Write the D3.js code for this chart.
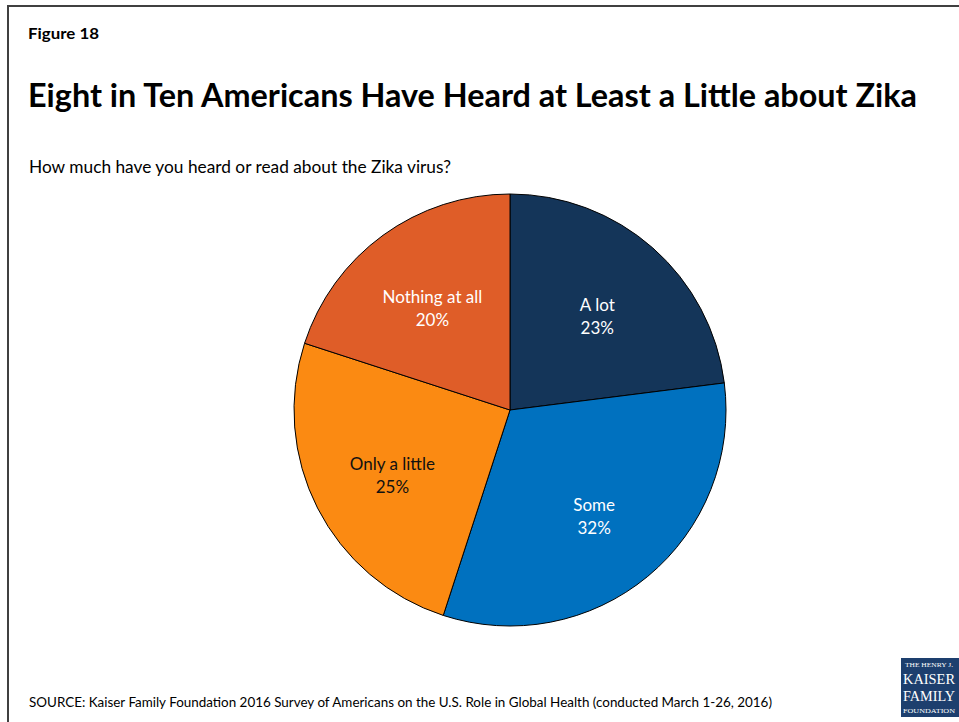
<!DOCTYPE html>
<html>
<head>
<meta charset="utf-8">
<script src="https://cdn.jsdelivr.net/npm/d3@7"></script>
<style>
  html, body { margin: 0; padding: 0; background: #fff; }
  svg { display: block; }
  .sans { font-family: Lato, "Open Sans", sans-serif; }
  .serif { font-family: "Liberation Serif", "DejaVu Serif", serif; }
</style>
</head>
<body>
<svg id="chart" width="959" height="722"></svg>
<script>
const categories = ["A lot", "Some", "Only a little", "Nothing at all"];
const values = [23, 32, 25, 20];
const valueLabels = ["23%", "32%", "25%", "20%"];
const colors = ["#143559", "#0071BF", "#FB8A12", "#DF5D28"];
const labelColors = ["#ffffff", "#ffffff", "#111111", "#ffffff"];

const svg = d3.select("#chart");

// frame
svg.append("rect")
  .attr("x", 8).attr("y", 6)
  .attr("width", 970).attr("height", 740)
  .attr("fill", "none").attr("stroke", "#404040").attr("stroke-width", 2);

svg.append("text").attr("class", "sans")
  .attr("x", 28).attr("y", 39)
  .attr("font-size", 15.5).attr("font-weight", 700)
  .attr("textLength", 71).attr("lengthAdjust", "spacingAndGlyphs")
  .text("Figure 18");

svg.append("text").attr("class", "sans")
  .attr("x", 28).attr("y", 107)
  .attr("font-size", 32.5).attr("font-weight", 700)
  .attr("textLength", 889).attr("lengthAdjust", "spacingAndGlyphs")
  .text("Eight in Ten Americans Have Heard at Least a Little about Zika");

svg.append("text").attr("class", "sans")
  .attr("x", 29).attr("y", 173)
  .attr("font-size", 16.5)
  .attr("textLength", 422).attr("lengthAdjust", "spacingAndGlyphs")
  .text("How much have you heard or read about the Zika virus?");

svg.append("text").attr("class", "sans")
  .attr("x", 29).attr("y", 707)
  .attr("font-size", 13.5)
  .attr("textLength", 743).attr("lengthAdjust", "spacingAndGlyphs")
  .text("SOURCE: Kaiser Family Foundation 2016 Survey of Americans on the U.S. Role in Global Health (conducted March 1-26, 2016)");

// pie
const cx = 510, cy = 410, R = 216;
const pie = d3.pie().sort(null).value(d => d.value);
const data = categories.map((c, i) => ({ cat: c, value: values[i], label: valueLabels[i], color: colors[i], lc: labelColors[i] }));
const arcs = pie(data);
const arc = d3.arc().innerRadius(0).outerRadius(R);
const labelArc = d3.arc().innerRadius(132).outerRadius(132);

const g = svg.append("g").attr("transform", `translate(${cx},${cy})`);
g.selectAll("path.slice").data(arcs).join("path")
  .attr("class", "slice")
  .attr("d", arc)
  .attr("fill", d => d.data.color)
  .attr("stroke", "#000").attr("stroke-width", 1);

const lbl = g.selectAll("text.lbl").data(arcs).join("text")
  .attr("class", "lbl sans")
  .attr("text-anchor", "middle")
  .attr("font-size", 17)
  .attr("fill", d => d.data.lc)
  .attr("transform", d => { const c = labelArc.centroid(d); return `translate(${c[0]},${c[1] + 4})`; });
lbl.append("tspan").attr("x", 0).attr("dy", "-0.25em").text(d => d.data.cat);
lbl.append("tspan").attr("x", 0).attr("dy", "1.35em").text(d => d.data.label);

// logo
const logo = svg.append("g");
logo.append("rect").attr("x", 901).attr("y", 658).attr("width", 58).attr("height", 59).attr("fill", "#1d3f6e");
logo.append("text").attr("class", "serif").attr("x", 929).attr("y", 667).attr("text-anchor", "middle")
  .attr("font-size", 6.5).attr("fill", "#fff")
  .attr("textLength", 48).attr("lengthAdjust", "spacingAndGlyphs").text("THE HENRY J.");
logo.append("text").attr("class", "serif").attr("x", 929).attr("y", 684).attr("text-anchor", "middle")
  .attr("font-size", 15).attr("fill", "#fff")
  .attr("textLength", 52).attr("lengthAdjust", "spacingAndGlyphs").text("KAISER");
logo.append("text").attr("class", "serif").attr("x", 929).attr("y", 701).attr("text-anchor", "middle")
  .attr("font-size", 15).attr("fill", "#fff")
  .attr("textLength", 52).attr("lengthAdjust", "spacingAndGlyphs").text("FAMILY");
logo.append("text").attr("class", "serif").attr("x", 929).attr("y", 713).attr("text-anchor", "middle")
  .attr("font-size", 6.5).attr("fill", "#fff")
  .attr("textLength", 52).attr("lengthAdjust", "spacingAndGlyphs").text("FOUNDATION");
</script>
</body>
</html>
